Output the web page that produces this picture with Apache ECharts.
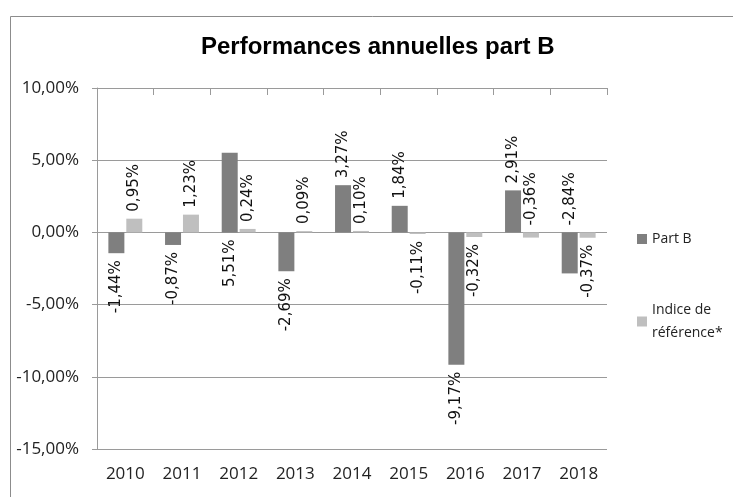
<!DOCTYPE html>
<html>
<head>
  <meta charset="UTF-8">
  <title>Performances annuelles part B</title>
  <style>
    body { margin: 0; overflow: hidden; background: #fff; }
    #chart { width: 733px; height: 497px; }
  </style>
  <script src="https://cdn.jsdelivr.net/npm/echarts@6/dist/echarts.min.js"></script>
</head>
<body>
<div id="chart"></div>
<script>
  // valeurs (en %)
  var years = ['2010', '2011', '2012', '2013', '2014', '2015', '2016', '2017', '2018'];
  var partB = [-1.44, -0.87, 5.51, -2.69, 3.27, 1.84, -9.17, 2.91, -2.84];
  var indice = [0.95, 1.23, 0.24, 0.09, 0.10, -0.11, -0.32, -0.36, -0.37];
  // côté de l'étiquette : au-dessus ou en dessous de la barre
  var partBSide = ['bottom', 'bottom', 'bottom', 'bottom', 'top', 'top', 'bottom', 'top', 'top'];
  var indiceSide = ['top', 'top', 'top', 'top', 'top', 'bottom', 'bottom', 'top', 'bottom'];

  function pct(v) {
    return v.toFixed(2).replace('.', ',') + '%';
  }

  function withLabels(values, sides) {
    return values.map(function (v, i) {
      return {
        value: v,
        label: {
          position: sides[i],
          align: sides[i] == 'top' ? 'left' : 'right'
        }
      };
    });
  }

  var myChart = echarts.init(document.getElementById('chart'));

  var barLabel = {
    show: true,
    rotate: 90,
    verticalAlign: 'middle',
    distance: 7,
    fontFamily: 'DejaVu Sans',
    fontSize: 15,
    color: '#111',
    formatter: function (p) { return pct(p.value); }
  };

  var option = {
    backgroundColor: '#fff',
    animation: false,
    graphic: [{
      type: 'rect',
      shape: { x: 10.5, y: 16.5, width: 800, height: 600 },
      style: { fill: 'none', stroke: '#8c8c8c', lineWidth: 1 },
      silent: true
    }],
    title: {
      text: 'Performances annuelles part B',
      left: 201,
      top: 35,
      padding: 0,
      textStyle: {
        fontFamily: 'Liberation Sans',
        fontWeight: 'bold',
        fontSize: 24,
        color: '#000'
      }
    },
    legend: [{
      data: ['Part B'],
      orient: 'vertical',
      left: 637,
      top: 228,
      padding: 0,
      itemWidth: 10,
      itemHeight: 10,
      icon: 'rect',
      textStyle: { fontFamily: 'Open Sans', fontSize: 14, color: '#222', lineHeight: 22 }
    }, {
      data: ['Indice de référence*'],
      orient: 'vertical',
      left: 637,
      top: 287,
      padding: 0,
      itemWidth: 10,
      itemHeight: 10,
      icon: 'rect',
      formatter: function () { return 'Indice de\nréférence*'; },
      textStyle: { fontFamily: 'Open Sans', fontSize: 14, color: '#222', lineHeight: 23, padding: [23, 0, 0, 0] }
    }],
    grid: {
      left: 97,
      right: 126,
      top: 88,
      bottom: 48
    },
    xAxis: [{
      type: 'category',
      data: years,
      axisLine: { show: false },
      axisTick: { show: false },
      axisLabel: { fontFamily: 'Open Sans', fontSize: 17, color: '#222', margin: 17 }
    }, {
      type: 'category',
      data: years,
      position: 'top',
      axisLine: { onZero: true, lineStyle: { color: '#9a9a9a' } },
      axisTick: { show: true, inside: true, length: 7, lineStyle: { color: '#9a9a9a' } },
      axisLabel: { show: false }
    }],
    yAxis: {
      type: 'value',
      min: -15,
      max: 10,
      interval: 5,
      axisLine: { show: true, lineStyle: { color: '#9a9a9a' } },
      axisTick: { show: true, length: 5, lineStyle: { color: '#9a9a9a' } },
      splitLine: { lineStyle: { color: '#9a9a9a' } },
      axisLabel: {
        fontFamily: 'Open Sans',
        fontSize: 17,
        color: '#222',
        margin: 18,
        formatter: pct
      }
    },
    series: [{
      name: 'Part B',
      type: 'bar',
      xAxisIndex: 0,
      barWidth: 16,
      barGap: '12%',
      itemStyle: { color: '#7f7f7f' },
      label: barLabel,
      data: withLabels(partB, partBSide)
    }, {
      name: 'Indice de référence*',
      type: 'bar',
      xAxisIndex: 0,
      barWidth: 16,
      barGap: '12%',
      itemStyle: { color: '#bfbfbf' },
      label: barLabel,
      data: withLabels(indice, indiceSide)
    }]
  };

  myChart.setOption(option);
</script>
</body>
</html>
